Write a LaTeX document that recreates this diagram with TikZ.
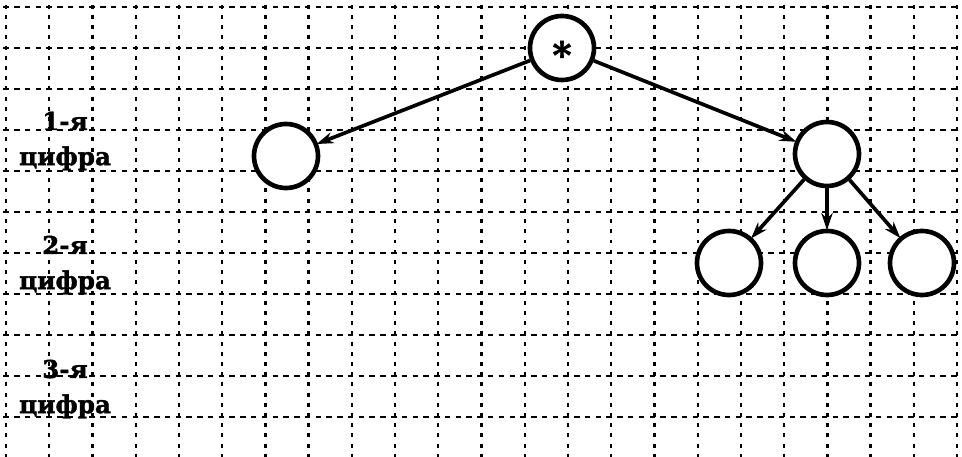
\documentclass[tikz,border=0pt]{standalone}
\usepackage{fontspec}
\setmainfont{DejaVu Serif}[BoldFeatures={FakeBold=1.6}]
\usetikzlibrary{arrows.meta}
\tikzset{
  hline/.style={line width=1.6pt,dash pattern=on 3.9pt off 3.76pt},
  vline/.style={line width=1.6pt,dash pattern=on 2.83pt off 4.43pt},
  digit/.style={circle,draw,fill=white,line width=3.3pt,minimum size=1.6cm,inner sep=0pt},
  rowlabel/.style={align=center,inner sep=0pt},
  arr/.style={-{Stealth[length=12pt,width=8pt]},line width=2.6pt,shorten >=-1pt},
}
\begin{document}
\begin{tikzpicture}[x=0.025cm,y=-0.025cm,font=\fontsize{17.5}{25}\selectfont\bfseries]
  \useasboundingbox (0,0) rectangle (962,457);
  % squared paper
  \foreach \j in {0,...,10}
    \draw[hline] (3.25,6.7+41*\j) -- (959.75,6.7+41*\j);
  \foreach \i in {0,...,22}
    \draw[vline] (6+43.23*\i,4.7) -- (6+43.23*\i,457);
  % row labels
  \node[rowlabel] (lab1) at (65,141) {1-я\\цифра};
  \node[rowlabel] (lab2) at (65,265) {2-я\\цифра};
  \node[rowlabel] (lab3) at (65,389) {3-я\\цифра};
  % tree
  \node[digit] (root) at (562,48)  {\fontsize{26}{26}\selectfont\raisebox{-0.55em}[0pt][0pt]{*}};
  \node[digit] (d1a)  at (286,156) {};
  \node[digit] (d1b)  at (827,154) {};
  \node[digit] (d2a)  at (729,263) {};
  \node[digit] (d2b)  at (827,263) {};
  \node[digit] (d2c)  at (922,263) {};
  \draw[arr] (root)--(d1a);
  \draw[arr] (root)--(d1b);
  \draw[arr] (d1b)--(d2a);
  \draw[arr] (d1b)--(d2b);
  \draw[arr] (d1b)--(d2c);
\end{tikzpicture}
\end{document}
